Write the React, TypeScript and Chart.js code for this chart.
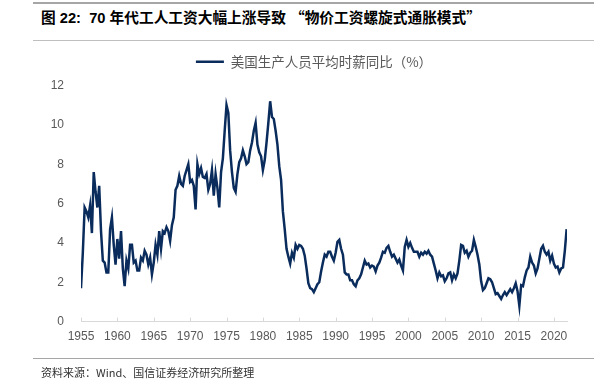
import React, { useEffect, useRef } from "react";
import { Chart, registerables } from "chart.js";

Chart.register(...registerables);

// Quarterly YoY growth of US production-worker average hourly earnings (%), from 1955 Q1
const startYear = 1955;
const periodsPerYear = 4;
const wage1955to1959 = [
  1.7, 3.5, 5.8, 5.6,
  5.3, 5.9, 4.5, 7.6,
  6.6, 5.8, 6.9, 4.6,
  3.1, 3.0, 2.5, 2.5,
  4.7, 5.3, 3.9, 2.9,
];
const wage1960s = [
  4.2, 3.2, 4.6, 2.7,
  1.8, 3.1, 2.7, 3.9,
  3.9, 3.0, 3.1, 2.6,
  2.6, 3.25, 3.1, 3.6,
  3.4, 2.9, 3.25, 2.4,
  3.0, 3.9, 3.4, 4.6,
  3.7, 4.6, 4.5, 4.8,
  4.6, 4.1, 4.9, 5.3,
  6.7, 6.9, 7.4, 7.0,
  6.9, 7.4, 7.7, 8.0,
];
const wage1970s = [
  7.1, 7.2, 6.9, 5.7,
  8.0, 7.5, 7.8, 7.35,
  7.3, 7.5, 6.7, 7.0,
  7.7, 6.4, 7.5, 6.8,
  5.8, 7.6, 8.3, 9.7,
  11.0, 10.6, 8.7, 7.6,
  6.8, 6.6, 7.5, 8.1,
  8.3, 8.7, 8.4, 8.0,
  8.1, 8.7, 9.1, 9.7,
  10.1, 9.0, 8.6, 8.4,
];
const wage1980s = [
  7.7, 8.2, 9.1, 10.1,
  11.2, 10.4, 10.3, 9.7,
  9.0, 7.9, 7.2, 5.6,
  4.7, 3.7, 3.3, 2.95,
  3.5, 3.25, 3.9, 3.7,
  3.9, 3.85, 3.7, 3.35,
  2.7, 1.95, 1.7, 1.65,
  1.5, 1.7, 1.9, 2.0,
  2.55, 3.0, 3.4, 3.3,
  3.55, 3.55, 3.3, 3.1,
];
const wage1990s = [
  3.5, 4.05, 4.15, 3.7,
  3.4, 2.5, 2.4, 2.4,
  2.1, 2.1, 1.9, 1.8,
  2.1, 2.2, 2.4, 2.75,
  3.1, 2.9, 2.95, 2.75,
  2.85, 2.8, 2.55, 2.85,
  3.0, 3.25, 3.55, 3.5,
  3.75, 3.85, 3.55, 3.3,
  3.4, 3.2, 3.0, 3.15,
  2.85, 2.6, 3.8, 4.15,
];
const wage2000s = [
  3.8, 4.0, 3.75, 3.55,
  3.55, 3.55, 3.3, 3.5,
  3.4, 3.55, 3.45, 3.6,
  3.4, 3.3, 2.95, 2.6,
  2.2, 2.5, 2.3, 2.35,
  2.05, 2.2, 2.45, 2.5,
  2.1, 2.4, 2.2, 2.45,
  3.1, 3.9, 3.85, 3.5,
  3.6, 3.3, 3.5, 3.6,
  4.15, 3.8, 3.4, 2.9,
];
const wage2010s = [
  2.05, 1.6, 1.7, 1.95,
  2.2, 2.15, 2.0, 1.7,
  1.4, 1.45, 1.3, 1.15,
  1.35, 1.5, 1.35, 1.5,
  1.65, 1.5, 1.7, 1.95,
  1.55, 0.8, 1.85, 1.8,
  2.25, 2.6, 2.75, 3.3,
  3.0, 2.85, 2.45, 2.7,
  3.2, 3.7, 3.85, 3.55,
  3.4, 3.55, 3.1, 3.35,
];
const wage2020s = [
  2.95, 2.75, 2.8, 2.5,
  2.7, 2.75, 3.6, 4.7,
];

const xTickYears = [1955, 1960, 1965, 1970, 1975, 1980, 1985, 1990, 1995, 2000, 2005, 2010, 2015, 2020];
const yTickValues = [0, 2, 4, 6, 8, 10, 12];
const xMin = 1955;
const xMax = 2021.8;

const seriesLabel = "美国生产人员平均时薪同比（%）";
const titleMain = "图 22:  70 年代工人工资大幅上涨导致 ";
const titleQuoted = "物价工资螺旋式通胀模式";
const sourceText = "资料来源：Wind、国信证券经济研究所整理";

const lineColor = "#0a2c5c";
const axisColor = "#d9d9d9";
const labelColor = "#595959";

export default function App() {
  const canvasRef = useRef<HTMLCanvasElement | null>(null);

  useEffect(() => {
    const canvas = canvasRef.current;
    if (!canvas) return;
    const values = [
      ...wage1955to1959,
      ...wage1960s,
      ...wage1970s,
      ...wage1980s,
      ...wage1990s,
      ...wage2000s,
      ...wage2010s,
      ...wage2020s,
    ];
    const points = values.map((v, i) => ({ x: startYear + i / periodsPerYear, y: v }));

    const legendSpacer = {
      id: "legendSpacer",
      beforeInit(chart: any) {
        const originalFit = chart.legend.fit;
        chart.legend.fit = function fit() {
          originalFit.bind(chart.legend)();
          this.height += 7;
        };
      },
      afterLayout(chart: any) {
        chart.legend.left += 21;
      },
    };

    const innerTicks = {
      id: "innerTicks",
      beforeDatasetsDraw(chart: any) {
        const xs = chart.scales.x;
        const ctx = chart.ctx;
        ctx.save();
        ctx.strokeStyle = axisColor;
        ctx.lineWidth = 1;
        ctx.beginPath();
        xs.ticks.forEach((t: any) => {
          const px = Math.round(xs.getPixelForValue(t.value)) + 0.5;
          ctx.moveTo(px, xs.top);
          ctx.lineTo(px, xs.top - 4);
        });
        ctx.stroke();
        ctx.restore();
      },
    };

    const chart = new Chart(canvas, {
      type: "line",
      data: {
        datasets: [
          {
            label: seriesLabel,
            data: points,
            borderColor: lineColor,
            backgroundColor: lineColor,
            borderWidth: 2.5,
            pointRadius: 0,
            tension: 0,
            fill: false,
          },
        ],
      },
      options: {
        animation: false,
        responsive: false,
        maintainAspectRatio: false,
        layout: { padding: { left: 40, right: 38, top: 45, bottom: 33 } },
        plugins: {
          legend: {
            display: true,
            position: "top",
            labels: {
              usePointStyle: true,
              pointStyle: "line",
              pointStyleWidth: 28,
              color: labelColor,
              padding: 10,
              font: { family: "'Noto Sans CJK SC', sans-serif", size: 13.5 },
            },
          },
          tooltip: { enabled: false },
        },
        scales: {
          x: {
            type: "linear",
            min: xMin,
            max: xMax,
            afterBuildTicks: (scale: any) => {
              scale.ticks = xTickYears.map((v) => ({ value: v }));
            },
            grid: { display: false, drawTicks: false },
            border: { display: true, color: axisColor, width: 1 },
            ticks: {
              autoSkip: false,
              maxRotation: 0,
              padding: 8,
              color: labelColor,
              font: { family: "'Liberation Sans', Arial, sans-serif", size: 12 },
              callback: (v: any) => String(v),
            },
          },
          y: {
            min: 0,
            max: 12,
            afterBuildTicks: (scale: any) => {
              scale.ticks = yTickValues.map((v) => ({ value: v }));
            },
            afterFit: (scale: any) => {
              scale.width = 41;
            },
            grid: { display: false, drawTicks: false },
            border: { display: false },
            ticks: {
              padding: 17,
              color: labelColor,
              font: { family: "'Liberation Sans', Arial, sans-serif", size: 12 },
              callback: (v: any) => String(v),
            },
          },
        },
      },
      plugins: [legendSpacer, innerTicks],
    });
    return () => chart.destroy();
  }, []);

  const rule = (top: number, color: string, h = 1): React.CSSProperties => ({
    position: "absolute",
    left: 33,
    width: 561,
    top,
    height: h,
    background: color,
  });

  const quoteStyle: React.CSSProperties = {
    fontFamily: "'Noto Sans CJK SC', sans-serif",
    fontFeatureSettings: "'fwid' 1",
  };

  return (
    <div
      style={{
        position: "fixed",
        left: 0,
        top: 0,
        width: 605,
        height: 385,
        background: "#ffffff",
        overflow: "hidden",
      }}
    >
      <div style={rule(2, "#a6a6a6", 2)} />
      <div
        style={{
          position: "absolute",
          left: 41,
          top: 8,
          fontFamily: "'Liberation Sans', Arial, 'Noto Sans CJK SC', sans-serif",
          fontWeight: "bold",
          fontSize: 14.7,
          lineHeight: "18px",
          color: "#000",
          whiteSpace: "pre",
        }}
      >
        {titleMain}
        <span style={quoteStyle}>“</span>
        {titleQuoted}
        <span style={quoteStyle}>”</span>
      </div>
      <div style={rule(40, "#bfbfbf")} />
      <canvas
        ref={canvasRef}
        width={605}
        height={385}
        style={{ position: "absolute", left: 0, top: 0, width: 605, height: 385 }}
      />
      <div style={rule(358, "#a6a6a6")} />
      <div
        style={{
          position: "absolute",
          left: 41,
          top: 365,
          fontFamily: "'Noto Sans CJK SC', sans-serif",
          fontSize: 11,
          lineHeight: "14px",
          color: "#333",
          whiteSpace: "nowrap",
        }}
      >
        {sourceText}
      </div>
    </div>
  );
}
